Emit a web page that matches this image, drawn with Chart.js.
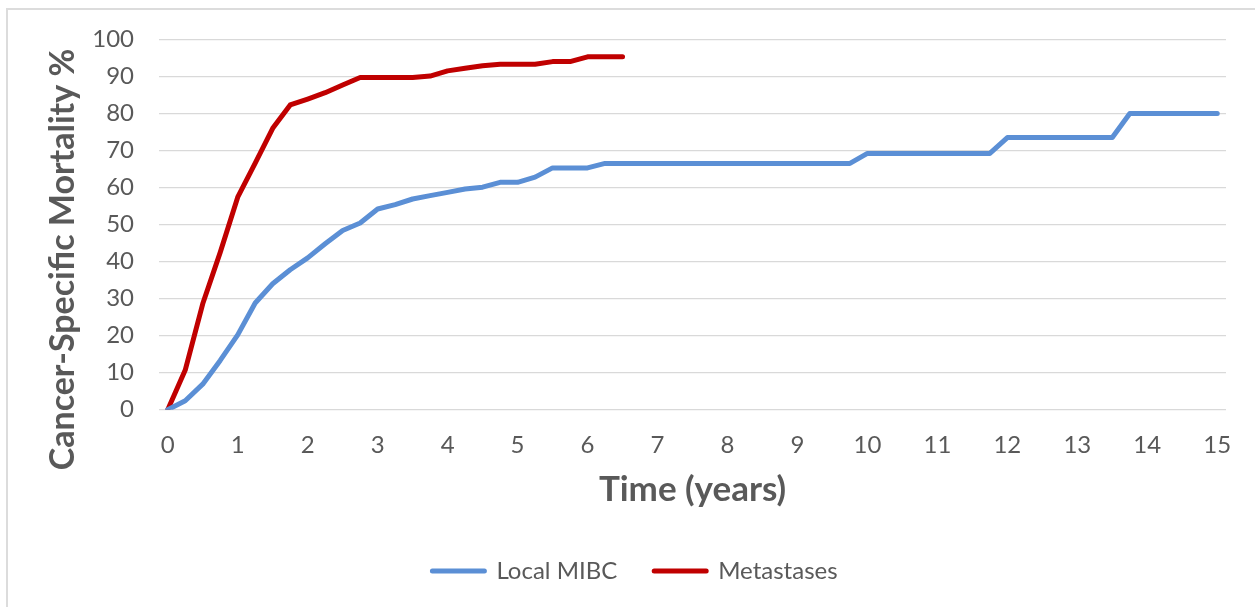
<!DOCTYPE html>
<html>
<head>
<meta charset="utf-8">
<title>Cancer-Specific Mortality</title>
<script src="https://cdn.jsdelivr.net/npm/chart.js@4/dist/chart.umd.min.js"></script>
<style>
  html, body { margin: 0; padding: 0; background: #ffffff; overflow: hidden; }
  #frame {
    position: absolute; left: 6px; top: 8px; width: 1300px; height: 700px;
    border: 2px solid #dcdcdc; box-sizing: border-box;
  }
  #chart { position: absolute; left: 0; top: 0; }
</style>
</head>
<body>
<div id="frame"></div>
<canvas id="chart" width="1255" height="607"></canvas>
<script>
// Follow-up time points (years), one every quarter year
const times = [
  0, 0.25, 0.5, 0.75, 1, 1.25, 1.5, 1.75, 2, 2.25, 2.5, 2.75,
  3, 3.25, 3.5, 3.75, 4, 4.25, 4.5, 4.75, 5, 5.25, 5.5, 5.75,
  6, 6.25, 6.5, 6.75, 7, 7.25, 7.5, 7.75, 8, 8.25, 8.5, 8.75,
  9, 9.25, 9.5, 9.75, 10, 10.25, 10.5, 10.75, 11, 11.25, 11.5, 11.75,
  12, 12.25, 12.5, 12.75, 13, 13.25, 13.5, 13.75, 14, 14.25, 14.5, 14.75, 15
];

// Cumulative cancer-specific mortality (%), local muscle-invasive disease
const localMIBC = [
  0, 2.4, 6.9, 13.3, 20.2, 28.8, 34.0, 37.8, 41.0, 44.8, 48.4, 50.4,
  54.2, 55.4, 56.9, 57.8, 58.7, 59.6, 60.1, 61.4, 61.4, 62.8, 65.3, 65.3,
  65.3, 66.5, 66.5, 66.5, 66.5, 66.5, 66.5, 66.5, 66.5, 66.5, 66.5, 66.5,
  66.5, 66.5, 66.5, 66.5, 69.2, 69.2, 69.2, 69.2, 69.2, 69.2, 69.2, 69.2,
  73.5, 73.5, 73.5, 73.5, 73.5, 73.5, 73.5, 80.0, 80.0, 80.0, 80.0, 80.0, 80.0
];

// Cumulative cancer-specific mortality (%), metastatic disease
const metastases = [
  0, 10.7, 28.6, 42.5, 57.4, 66.6, 76.0, 82.3, 83.9, 85.6, 87.7, 89.7,
  89.7, 89.7, 89.7, 90.1, 91.5, 92.2, 92.9, 93.3, 93.3, 93.3, 94.0, 94.0,
  95.3, 95.3, 95.3
];

const yTicks = [0, 10, 20, 30, 40, 50, 60, 70, 80, 90, 100];

const TEXT = '#595959';
const GRID = '#d9d9d9';
const FONT = 'Lato, "Open Sans", sans-serif';
const yTitle = 'Cancer-Specific Mortality %';

// Vertical axis title, placed along the left edge of the frame
const yTitlePlugin = {
  id: 'yTitle',
  afterDraw(chart) {
    const ctx = chart.ctx;
    ctx.save();
    ctx.translate(74, 259.5);
    ctx.rotate(-Math.PI / 2);
    ctx.font = 'bold 34px ' + FONT;
    ctx.fillStyle = TEXT;
    ctx.textAlign = 'center';
    ctx.textBaseline = 'alphabetic';
    ctx.fillText(yTitle, 0, 0);
    ctx.restore();
  }
};

new Chart(document.getElementById('chart'), {
  type: 'line',
  data: {
    labels: times,
    datasets: [
      {
        label: 'Local MIBC',
        data: localMIBC,
        borderColor: '#5B8FD5',
        backgroundColor: '#5B8FD5',
        borderWidth: 5,
        borderCapStyle: 'round',
        borderJoinStyle: 'round',
        pointRadius: 0,
        tension: 0,
        fill: false
      },
      {
        label: 'Metastases',
        data: metastases,
        borderColor: '#C00000',
        backgroundColor: '#C00000',
        borderWidth: 5,
        borderCapStyle: 'round',
        borderJoinStyle: 'round',
        pointRadius: 0,
        tension: 0,
        fill: false
      }
    ]
  },
  options: {
    responsive: false,
    animation: false,
    devicePixelRatio: 1,
    layout: { padding: { left: 44, right: 29, top: 38, bottom: 14 } },
    plugins: {
      tooltip: { enabled: false },
      title: { display: false },
      legend: {
        position: 'bottom',
        labels: {
          boxWidth: 52,
          boxHeight: 0,
          padding: 37,
          color: TEXT,
          font: { family: FONT, size: 24 }
        }
      }
    },
    scales: {
      x: {
        type: 'category',
        offset: true,
        grid: { display: false, drawTicks: false },
        border: { display: false },
        ticks: {
          autoSkip: false,
          maxRotation: 0,
          minRotation: 0,
          padding: 21,
          color: TEXT,
          font: { family: FONT, size: 24 },
          callback: function (value, index) {
            const t = times[index];
            return Number.isInteger(t) ? String(t) : '';
          }
        },
        title: {
          display: true,
          text: 'Time (years)',
          color: TEXT,
          font: { family: FONT, size: 35, weight: 'bold' },
          padding: { top: 0, bottom: 11 }
        },
        afterFit: function (scale) { scale.height = 112.3; }
      },
      y: {
        min: 0,
        max: 100,
        afterBuildTicks: function (scale) {
          scale.ticks = yTicks.map(v => ({ value: v }));
        },
        grid: { color: GRID, lineWidth: 1.3, drawTicks: false },
        border: { display: false },
        ticks: {
          padding: 25,
          color: TEXT,
          font: { family: FONT, size: 24 }
        },
        afterFit: function (scale) { scale.width = 115; }
      }
    }
  },
  plugins: [yTitlePlugin]
});
</script>
</body>
</html>
